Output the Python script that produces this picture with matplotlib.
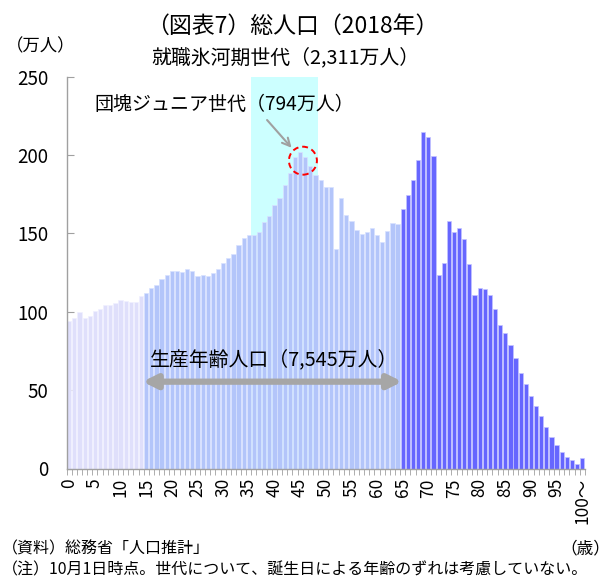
import numpy as np
import matplotlib
matplotlib.use("Agg")
from matplotlib import pyplot as plt
from matplotlib.patches import Ellipse

plt.rcParams['font.family'] = ['Noto Sans CJK JP', 'DejaVu Sans']

# population by age, 2018 (10k persons), age 100 = 100 and over
ages = np.arange(0, 101)
population = [
    94.1, 95.8, 99.7, 95.8, 97.3, 100.7, 101.6, 104.3, 104.3, 105.8,
    107.7, 106.9, 106.3, 106.3, 110.1, 112.2, 115.4, 117.3, 120.7, 123.5,
    126.0, 126.0, 125.4, 127.1, 126.3, 123.1, 123.3, 122.6, 124.5, 127.1,
    130.9, 134.5, 136.9, 142.4, 146.9, 148.8, 149.0, 150.7, 157.1, 161.3,
    168.0, 172.4, 180.7, 188.4, 199.0, 202.2, 198.6, 193.3, 187.3, 184.1,
    179.9, 179.4, 140.1, 172.8, 162.0, 157.8, 152.2, 149.9, 150.7, 153.3,
    149.0, 144.5, 151.8, 156.5, 156.0, 165.6, 174.7, 184.1, 196.8, 214.5,
    211.4, 199.3, 123.2, 130.9, 157.8, 151.1, 153.2, 146.5, 130.3, 110.7,
    115.0, 114.6, 110.7, 101.6, 91.4, 86.3, 78.7, 70.2, 60.7, 53.7,
    46.5, 39.6, 33.3, 26.3, 19.8, 15.0, 10.5, 7.3, 5.4, 2.9,
    6.5,
]
tick_ages = list(range(0, 101, 5))
tick_labels = [str(a) for a in range(0, 100, 5)] + ["100～"]

# groups
young_end = 15      # 0-14
old_start = 65      # 65+
hyouga = (36, 48)   # 就職氷河期世代
junior = (44, 47)   # 団塊ジュニア世代

colors = []
edges = []
for a in ages:
    if a < young_end:
        colors.append("#dfdffb")
        edges.append("#f0f0ff")
    elif a < old_start:
        colors.append("#b3c5fa")
        edges.append("#d8e2ff")
    else:
        colors.append("#6666ff")
        edges.append("#c4c4ff")

W, H = 612, 578
fig = plt.figure(figsize=(W / 100, H / 100), dpi=100)
ax = fig.add_axes([66.7 / W, 1 - 468.5 / H, (584.8 - 66.7) / W, (468.5 - 76.7) / H])

ax.axvspan(hyouga[0] - 0.5, hyouga[1] + 0.5, color="#ccffff", zorder=0, lw=0)
ax.bar(ages, population, width=0.82, color=colors, edgecolor=edges,
       linewidth=0.5, zorder=2)

ax.set_xlim(-0.5, 100.5)
ax.set_ylim(0, 250)
ax.set_yticks(range(0, 251, 50))
ax.tick_params(axis="y", direction="in", length=5, color="#a0a0a0",
               labelsize=13.5, pad=13)
ax.set_xticks(tick_ages)
ax.set_xticklabels(tick_labels, rotation=90, fontsize=12.5)
ax.set_xticks(np.arange(-0.5, 101, 1), minor=True)
ax.tick_params(axis="x", which="major", length=0, pad=7)
ax.tick_params(axis="x", which="minor", length=4, color="#a0a0a0", direction="out")
for s in ["top", "right"]:
    ax.spines[s].set_visible(False)
for s in ["left", "bottom"]:
    ax.spines[s].set_color("#a0a0a0")
    ax.spines[s].set_linewidth(1.0)

# red dashed circle around the junior peak
cx = (junior[0] + junior[1]) / 2
circ = Ellipse((cx + 0.05, 196.4), width=28 / 5.13, height=28 / 1.567,
               fill=False, edgecolor="#ff0000", linestyle=(0, (3, 2)),
               linewidth=1.4, zorder=4)
ax.add_patch(circ)
ax.annotate("", xy=(43.7, 203.3), xytext=(38.2, 223.7),
            arrowprops=dict(arrowstyle="->", color="#a0a0a0", lw=1.5,
                            mutation_scale=14), zorder=4)

# working-age double arrow
ax.annotate("", xy=(14.3, 55.4), xytext=(64.9, 55.4),
            arrowprops=dict(arrowstyle="<|-|>", color="#a6a6a6", lw=4.5,
                            mutation_scale=20, shrinkA=0, shrinkB=0), zorder=5)


def px(x, y):
    return x / W, 1 - y / H


fig.text(*px(292, 26), "（図表7）総人口（2018年）", fontsize=16.5,
         ha="center", va="center")
fig.text(*px(285, 58), "就職氷河期世代（2,311万人）", fontsize=14.3,
         ha="center", va="center")
fig.text(*px(41, 46), "（万人）", fontsize=12.5, ha="center", va="center")
fig.text(*px(224, 104), "団塊ジュニア世代（794万人）", fontsize=13.7,
         ha="center", va="center")
fig.text(*px(274, 360), "生産年齢人口（7,545万人）", fontsize=14.3,
         ha="center", va="center")
fig.text(*px(2, 549), "（資料）総務省「人口推計」", fontsize=11.5,
         ha="left", va="center")
fig.text(*px(2, 570), "（注）10月1日時点。世代について、誕生日による年齢のずれは考慮していない。",
         fontsize=11.5, ha="left", va="center")
fig.text(*px(610, 549), "（歳）", fontsize=12, ha="right", va="center")

fig.savefig("out.png", dpi=100)
